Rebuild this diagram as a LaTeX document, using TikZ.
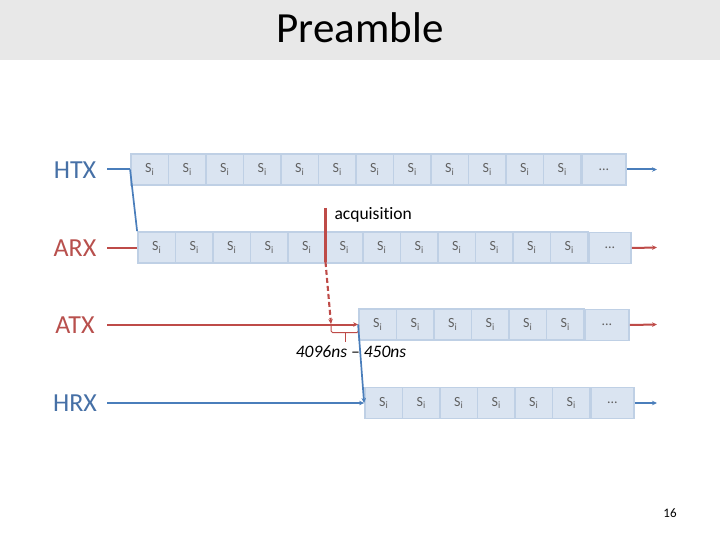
\documentclass[tikz,border=0pt]{standalone}
\usepackage{fontspec}
\setmainfont{Carlito}[Ligatures=NoCommon]
\usetikzlibrary{arrows.meta}
\definecolor{cellfill}{HTML}{DAE4F1}
\definecolor{celledge}{HTML}{BFD0E5}
\definecolor{lblue}{HTML}{4A7EBB}
\definecolor{lred}{HTML}{BE4B48}
\definecolor{tblue}{HTML}{4670A6}
\definecolor{tred}{HTML}{B8504D}
\definecolor{bannerc}{HTML}{E8E8E8}
\definecolor{stext}{HTML}{606060}
\tikzset{
  cell/.style={rectangle, draw=celledge, fill=cellfill, line width=1.8pt,
    minimum height=31pt, minimum width=37.5pt, inner sep=0pt, text=stext,
    font=\fontsize{14}{14}\selectfont},
  dcell/.style={cell, minimum width=43pt, anchor=west},
  lbl/.style={font=\fontsize{26}{26}\selectfont},
  bline/.style={draw=lblue, line width=2pt},
  rline/.style={draw=lred, line width=2pt},
  tip/.style={-{Stealth[length=5pt,width=4.5pt]}},
}
\begin{document}
\begin{tikzpicture}[x=1pt,y=-1pt]
\useasboundingbox (0,0) rectangle (720,540);
\fill[bannerc] (0,0) rectangle (720,60);
\node[font=\fontsize{43}{43}\selectfont, anchor=base] (title) at (360,43) {Preamble};

% labels
\node[lbl, text=tblue] (lhtx) at (75,170) {HTX};
\node[lbl, text=tred] (larx) at (75,248) {ARX};
\node[lbl, text=tred] (latx) at (75,325) {ATX};
\node[lbl, text=tblue] (lhrx) at (75,403) {HRX};

\coordinate (shtx) at (107,169.5);
\coordinate (sarx) at (107,247.5);
\coordinate (satx) at (107,324.5);
\coordinate (shrx) at (107,403);
\coordinate (ehtx) at (657,169.5);
\coordinate (earx) at (657,247.5);
\coordinate (eatx) at (657,324.5);
\coordinate (ehrx) at (657,403);

% rows
\foreach \k in {1,...,12} \node[cell] (htx\k) at ({131+(\k-0.5)*37.5},169.5) {S\textsubscript{i}};
\node[dcell, minimum width=44pt] (htxd) at (581,169.5) {...};
\foreach \k in {1,...,12} \node[cell] (arx\k) at ({138+(\k-0.5)*37.5},247.5) {S\textsubscript{i}};
\node[dcell, minimum width=42pt] (arxd) at (588,248) {...};
\foreach \k in {1,...,6} \node[cell] (atx\k) at ({359+(\k-0.5)*37.5},324.5) {S\textsubscript{i}};
\node[dcell, minimum width=44pt] (atxd) at (584,325) {...};
\foreach \k in {1,...,6} \node[cell] (hrx\k) at ({365+(\k-0.5)*37.5},403) {S\textsubscript{i}};
\node[dcell, minimum width=43pt] (hrxd) at (590,403) {...};

% connectors
\draw[bline] (shtx) -- (htx1.west);
\draw[rline] (sarx) -- (arx1.west);
\draw[rline, tip] (satx) -- (atx1.west);
\draw[bline, tip] (shrx) -- (hrx1.west);
\draw[bline, line width=1.7pt] (htx1.west) -- (arx1.north west);
\draw[bline, tip] (htxd.east) -- (ehtx);
\draw[rline, tip] (arxd.east) -- (earx);
\draw[rline, tip] (atxd.east) -- (eatx);
\draw[bline, tip] (hrxd.east) -- (ehrx);

% acquisition
\coordinate (acqtop) at (325.5,208);
\coordinate (acqbot) at (325.5,262);
\coordinate (acqend) at (331,324);
\draw[rline, line width=2.5pt] (acqtop) -- (acqbot);
\draw[rline, line width=2.1pt, dash pattern=on 5pt off 3pt, tip] (acqbot) -- (acqend);
\node[anchor=west, font=\fontsize{17.5}{17.5}\selectfont] (acq) at (331,215) {acquisition};

% brace
\coordinate (bl) at (331,325);
\coordinate (br) at (358.5,325);
\coordinate (bm) at (345.5,342);
\draw[lred, line width=1pt, rounded corners=1.5pt] (bl) -- (331,332.5) -- (358.5,332.5) -- (br);
\draw[lred, line width=1pt] (345.5,332.5) -- (bm);
\node[font=\fontsize{17.5}{17.5}\itshape\selectfont] (dur) at (351,352) {4096ns \textendash\ 450ns};

\draw[bline, line width=1.7pt, tip] (atx1.west) -- (hrx1.west);

\node[font=\fontsize{13}{13}\selectfont] (pg) at (670,513) {16};
\end{tikzpicture}
\end{document}
